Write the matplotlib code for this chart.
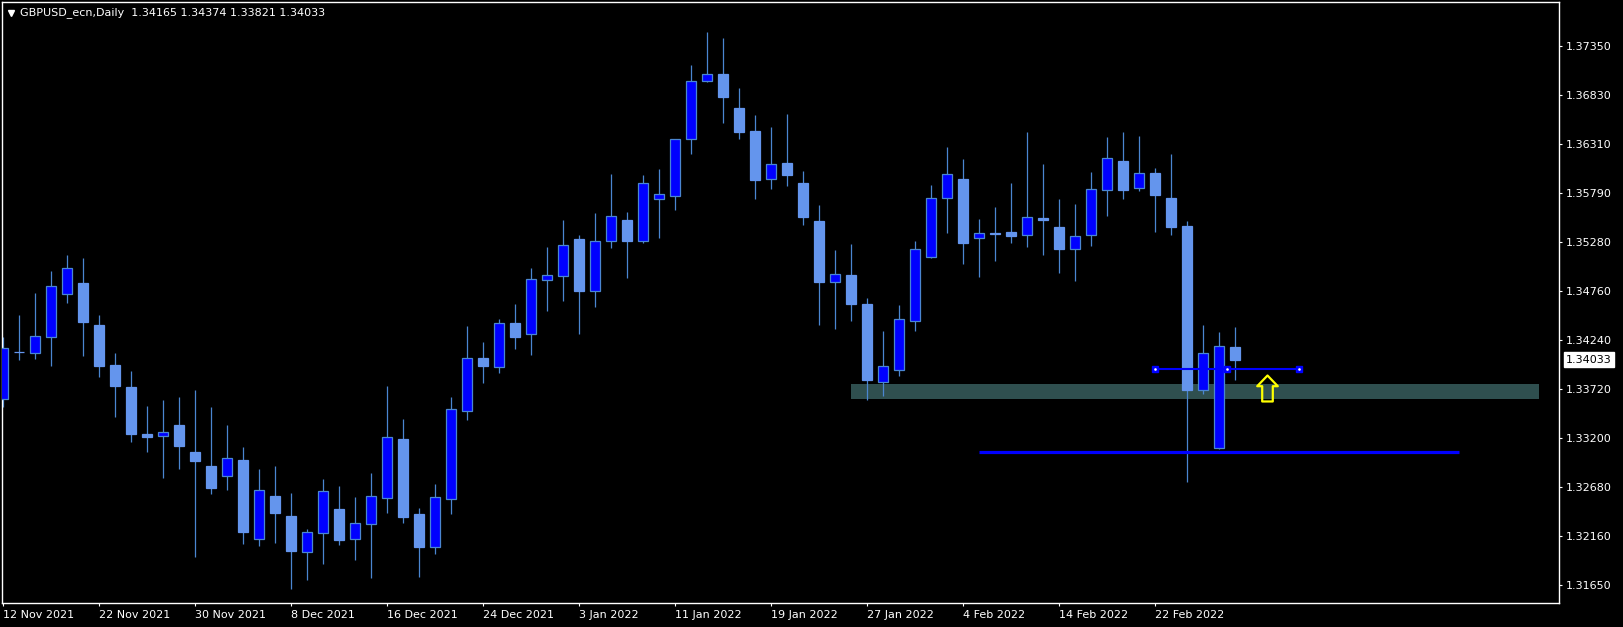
import numpy as np
import matplotlib
matplotlib.use('Agg')
import matplotlib.pyplot as plt
from matplotlib.patches import Rectangle
from matplotlib.path import Path
from matplotlib.lines import Line2D

# ---------------- data ----------------
chart_title = "GBPUSD_ecn,Daily  1.34165 1.34374 1.33821 1.34033"

opens = [1.33614, 1.34114, 1.34100, 1.34276, 1.34724, 1.34844, 1.34400, 1.33977, 1.33744, 1.33247,
         1.33223, 1.33342, 1.33057, 1.32909, 1.32800, 1.32972, 1.32133, 1.32591, 1.32380, 1.32002,
         1.32203, 1.32454, 1.32133, 1.32298, 1.32567, 1.33194, 1.32401, 1.32049, 1.32556, 1.33487,
         1.34051, 1.33952, 1.34421, 1.34301, 1.34872, 1.34915, 1.35309, 1.34756, 1.35285, 1.35510,
         1.35285, 1.35729, 1.35761, 1.36363, 1.36977, 1.37054, 1.36694, 1.36451, 1.35940, 1.36113,
         1.35901, 1.35499, 1.34851, 1.34928, 1.34622, 1.33794, 1.33921, 1.34439, 1.35116, 1.35739,
         1.35944, 1.35316, 1.35369, 1.35383, 1.35348, 1.35534, 1.35436, 1.35200, 1.35348, 1.35824,
         1.36134, 1.35845, 1.36007, 1.35743, 1.35447, 1.33709, 1.33096, 1.34165]

highs = [1.34270, 1.34505, 1.34738, 1.34971, 1.35140, 1.35108, 1.34505, 1.34103, 1.33913, 1.33543,
         1.33606, 1.33638, 1.33712, 1.33532, 1.33342, 1.33109, 1.32877, 1.32909, 1.32623, 1.32242,
         1.32771, 1.32697, 1.32581, 1.32834, 1.33755, 1.33406, 1.32464, 1.32718, 1.33638, 1.34389,
         1.34220, 1.34463, 1.34622, 1.35002, 1.35224, 1.35510, 1.35351, 1.35584, 1.35996, 1.35595,
         1.35986, 1.36049, 1.36366, 1.37149, 1.37498, 1.37435, 1.36906, 1.36620, 1.36493, 1.36631,
         1.36028, 1.35669, 1.35193, 1.35256, 1.34685, 1.34336, 1.34611, 1.35288, 1.35880, 1.36282,
         1.36155, 1.35521, 1.35647, 1.35901, 1.36441, 1.36102, 1.35732, 1.35679, 1.36018, 1.36388,
         1.36441, 1.36398, 1.36060, 1.36208, 1.35499, 1.34400, 1.34326, 1.34374]

lows = [1.33536, 1.34033, 1.34043, 1.33969, 1.34635, 1.34075, 1.33853, 1.33430, 1.33165, 1.33060,
        1.32785, 1.32880, 1.31949, 1.32616, 1.32658, 1.32087, 1.32063, 1.32097, 1.31608, 1.31703,
        1.31875, 1.32076, 1.31918, 1.31724, 1.32415, 1.32306, 1.31735, 1.31981, 1.32404, 1.33398,
        1.33789, 1.33895, 1.34149, 1.34086, 1.34551, 1.34657, 1.34308, 1.34593, 1.35217, 1.34900,
        1.35270, 1.35323, 1.35619, 1.36211, 1.36969, 1.36539, 1.36370, 1.35735, 1.35841, 1.35873,
        1.35460, 1.34400, 1.34357, 1.34445, 1.33606, 1.33652, 1.33863, 1.34339, 1.35108, 1.35376,
        1.35048, 1.34910, 1.35080, 1.35270, 1.35228, 1.35143, 1.34953, 1.34868, 1.35238, 1.35555,
        1.35735, 1.35820, 1.35386, 1.35355, 1.32739, 1.33673, 1.33090, 1.33821]

closes = [1.34153, 1.34109, 1.34280, 1.34809, 1.34999, 1.34435, 1.33969, 1.33758, 1.33250, 1.33218,
          1.33265, 1.33123, 1.32965, 1.32679, 1.32990, 1.32214, 1.32652, 1.32415, 1.32013, 1.32207,
          1.32641, 1.32129, 1.32302, 1.32588, 1.33212, 1.32372, 1.32055, 1.32578, 1.33508, 1.34047,
          1.33969, 1.34418, 1.34276, 1.34883, 1.34925, 1.35242, 1.34762, 1.35285, 1.35549, 1.35291,
          1.35898, 1.35782, 1.36363, 1.36977, 1.37051, 1.36814, 1.36444, 1.35936, 1.36099, 1.35989,
          1.35545, 1.34857, 1.34936, 1.34625, 1.33821, 1.33963, 1.34460, 1.35200, 1.35739, 1.35993,
          1.35270, 1.35369, 1.35367, 1.35344, 1.35539, 1.35513, 1.35206, 1.35338, 1.35835, 1.36162,
          1.35830, 1.36004, 1.35778, 1.35439, 1.33715, 1.34100, 1.34174, 1.34033]

date_tick_bars = [0, 6, 12, 18, 24, 30, 36, 42, 48, 54, 60, 66, 72]
date_labels = ['12 Nov 2021', '22 Nov 2021', '30 Nov 2021', '8 Dec 2021', '16 Dec 2021',
               '24 Dec 2021', '3 Jan 2022', '11 Jan 2022', '19 Jan 2022', '27 Jan 2022',
               '4 Feb 2022', '14 Feb 2022', '22 Feb 2022']

price_labels = ['1.37350', '1.36830', '1.36310', '1.35790', '1.35280', '1.34760',
                '1.34240', '1.33720', '1.33200', '1.32680', '1.32160', '1.31650']
price_top, price_bottom = 1.3735, 1.3165

# chart objects
zone_start_bar, zone_end_bar = 53, 96
zone_low, zone_high = 1.33617, 1.33776
support_line_start, support_line_end = 61, 91
support_line_price = 1.33053
hline_start, hline_mid, hline_end = 72, 76.5, 81
hline_price = 1.33931
arrow_bar, arrow_price = 79, 1.33874
last_price = 1.34033

# ---------------- style ----------------
W, H = 1623, 627
BG = 'black'
UP_COL = '#0000FF'
DOWN_COL = '#6495ED'
WICK_COL = '#4A86D0'
ZONE_COL = '#2F4F4F'
FONT = 'DejaVu Sans'
FS = 8

plt.rcParams['font.family'] = [FONT]

fig = plt.figure(figsize=(W / 100, H / 100), dpi=100, facecolor=BG)
left_px, right_px, top_px, bottom_px = 2, 1559, 2, 603
ax = fig.add_axes([left_px / W, (H - bottom_px) / H,
                   (right_px - left_px) / W, (bottom_px - top_px) / H])
ax.set_facecolor(BG)

px_per_price = 539 / (price_top - price_bottom)
ax.set_ylim(price_top - (bottom_px - 46) / px_per_price, price_top + (46 - top_px) / px_per_price)
ax.set_xlim((left_px - 3.3) / 16, (right_px - 3.3) / 16)

o = np.array(opens); h = np.array(highs); l = np.array(lows); c = np.array(closes)
idx = np.arange(len(o))
up = c >= o
body_bottom = np.minimum(o, c)
body_height = np.maximum(np.abs(c - o), 1e-6)

# zone
ax.add_patch(Rectangle((zone_start_bar, zone_low), zone_end_bar - zone_start_bar,
                       zone_high - zone_low, facecolor=ZONE_COL, edgecolor='none', zorder=1))

# wicks
ax.vlines(idx, l, h, colors=WICK_COL, linewidth=0.9, zorder=2)
# bodies
ax.bar(idx[up], body_height[up], bottom=body_bottom[up], width=0.64,
       color=UP_COL, edgecolor=WICK_COL, linewidth=0.9, zorder=3)
ax.bar(idx[~up], body_height[~up], bottom=body_bottom[~up], width=0.64,
       color=DOWN_COL, edgecolor=DOWN_COL, linewidth=0.9, zorder=3)

# lower support line
ax.plot([support_line_start, support_line_end], [support_line_price, support_line_price],
        color=UP_COL, linewidth=2.3, solid_capstyle='butt', zorder=4)
# upper line with anchor squares
ax.plot([hline_start, hline_end], [hline_price, hline_price],
        color=UP_COL, linewidth=1.5, solid_capstyle='butt', zorder=4)
ax.plot([hline_start, hline_mid, hline_end], [hline_price] * 3, linestyle='none',
        marker='s', markersize=5, color=UP_COL, zorder=5)
ax.plot([hline_start, hline_mid, hline_end], [hline_price] * 3, linestyle='none',
        marker='s', markersize=0.8, color='white', zorder=6)

# yellow up arrow (tip at anchor)
arrow_verts = [(0, 0), (10.3, -10.7), (5.3, -10.7), (5.3, -26), (-5.3, -26),
               (-5.3, -10.7), (-10.3, -10.7), (0, 0)]
arrow_codes = [Path.MOVETO] + [Path.LINETO] * 6 + [Path.CLOSEPOLY]
arrow_path = Path(arrow_verts, arrow_codes)
ax.plot([arrow_bar], [arrow_price], linestyle='none', marker=arrow_path,
        markersize=37.4, markerfacecolor='none', markeredgecolor='#FFFF00',
        markeredgewidth=1.6, zorder=6)

# axes styling
for s in ax.spines.values():
    s.set_color('white')
    s.set_linewidth(1.0)

ax.yaxis.tick_right()
ax.set_yticks(np.linspace(price_top, price_bottom, len(price_labels)))
ax.set_yticklabels(price_labels)
ax.tick_params(axis='y', colors='white', direction='out', length=2.2, width=0.8,
               pad=2.6, labelsize=FS, labelcolor='white')

ax.set_xticks(date_tick_bars)
ax.set_xticklabels(date_labels, ha='left')
ax.tick_params(axis='x', colors='white', direction='out', length=2.2, width=0.8,
               pad=2.5, labelsize=FS, labelcolor='white')
for lab in ax.get_xticklabels():
    lab.set_horizontalalignment('left')

# current price label
ax.annotate(f'{last_price:.5f}', xy=(1, last_price), xycoords=('axes fraction', 'data'),
            xytext=(7, 0), textcoords='offset pixels', va='center', ha='left',
            fontsize=FS, color='black',
            bbox=dict(boxstyle='square,pad=0.2', facecolor='white', edgecolor='white'),
            annotation_clip=False, zorder=10)

# title
fig.text(20.5 / W, 1 - 13 / H, chart_title, color='white', fontsize=FS,
         va='center', ha='left')
fig.add_artist(Line2D([11 / W], [1 - 13 / H], marker='v', color='white',
                      markersize=5, transform=fig.transFigure))

fig.savefig('out.png', dpi=100, facecolor=BG)
